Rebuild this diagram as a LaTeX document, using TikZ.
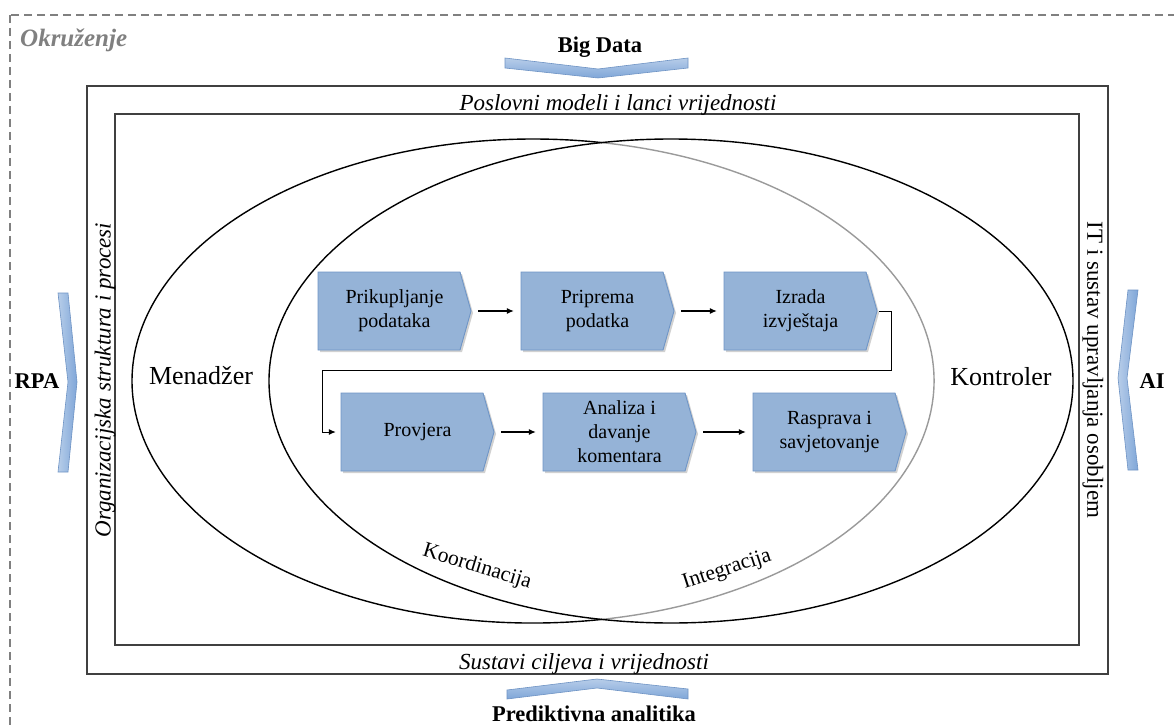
\documentclass[tikz,border=0pt]{standalone}
\usepackage{fontspec}
\setmainfont{Liberation Serif}
\usetikzlibrary{arrows.meta}
\definecolor{chevfill}{HTML}{95B3D7}
\definecolor{chevline}{HTML}{6F95C6}
\definecolor{bandlight}{HTML}{B7CDE9}
\definecolor{banddark}{HTML}{7FA6D8}
\definecolor{bandline}{HTML}{6E93C4}
\definecolor{rectline}{HTML}{404040}
\definecolor{ellgray}{HTML}{9A9A9A}
\definecolor{envgray}{HTML}{808080}
\tikzset{
 frame/.style={draw=rectline, line width=1.3pt},
 ellline/.style={draw=black, line width=1.4pt},
 ellsoft/.style={draw=ellgray, line width=1.4pt},
 chevshape/.style={fill=chevfill, draw=chevline, line width=0.9pt, line join=miter},
 chevshadow/.style={fill=black, opacity=0.18},
 chevtext/.style={minimum width=153pt, minimum height=78pt, inner sep=0pt, align=center, font=\fontsize{20}{24}\selectfont},
 flow/.style={line width=1.1pt, -{Latex[length=7pt,width=6pt]}},
 bandh/.style={top color=bandlight, bottom color=banddark, draw=bandline, line width=0.6pt},
 bandv/.style={left color=bandlight, right color=banddark, draw=bandline, line width=0.6pt},
 biglabel/.style={font=\fontsize{22.5}{27}\selectfont\bfseries, inner sep=0pt},
 sidelabel/.style={font=\fontsize{23}{27}\selectfont\itshape, inner sep=0pt},
 sidelabelup/.style={font=\fontsize{23}{27}\selectfont, inner sep=0pt},
 rolelabel/.style={font=\fontsize{26}{30}\selectfont, inner sep=0pt},
 arclabel/.style={font=\fontsize{21.5}{25}\selectfont, inner sep=0pt},
}
\newcommand\procchev[4]{%
 \fill[chevshadow] (#2+2,#3+2) -- ++(142,0) -- ++(11,39) -- ++(-11,39) -- ++(-142,0) -- cycle;
 \path[chevshape] (#2,#3) -- ++(142,0) -- ++(11,39) -- ++(-11,39) -- ++(-142,0) -- cycle;
 \node[chevtext] (#1) at (#2+76.5,#3+39) {#4};}
\begin{document}
\begin{tikzpicture}[x=1pt,y=-1pt]
\useasboundingbox (0,0) rectangle (1174,727);
\clip (0,0) rectangle (1174,727);
\fill[white] (0,0) rectangle (1174,727);
\draw[envgray, line width=1.2pt, dash pattern=on 8pt off 5pt] (10,15) rectangle (1200,760);
\node[font=\fontsize{25}{29}\selectfont\bfseries\itshape, text=envgray, anchor=west, inner sep=0pt] (env) at (20,40) {Okruženje};
% frames
\draw[frame] (87,86) rectangle (1108,674);
\draw[frame] (115,114) rectangle (1079,645);
% labels
\node[biglabel] (bigdata) at (600,47) {Big Data};
\node[sidelabel] (poslovni) at (618,105) {Poslovni modeli i lanci vrijednosti};
\node[sidelabel] (sustavi) at (584,664) {Sustavi ciljeva i vrijednosti};
\node[biglabel] (predikt) at (594,714) {Prediktivna analitika};
\node[biglabel] (rpa) at (37,381) {RPA};
\node[biglabel] (ai) at (1152,381) {AI};
\node[sidelabel, rotate=90] (org) at (105,380) {Organizacijska struktura i procesi};
\node[sidelabelup, rotate=-90] (it) at (1093,370) {IT i sustav upravljanja osobljem};
% bands
\path[bandh] (505,58) -- (598,69) -- (688,58) -- (688,68) -- (598,78) -- (505,68) -- cycle;
\path[bandh] (507,690) -- (597,679) -- (688,689) -- (688,699) -- (597,688) -- (507,699) -- cycle;
\path[bandv] (58,293) -- (68,293) -- (77,382) -- (68,472) -- (58,472) -- (68,382) -- cycle;
\path[bandv] (1128,290) -- (1138,290) -- (1127,378) -- (1138,470) -- (1128,470) -- (1118,378) -- cycle;
% ellipses
\draw[ellline] ([shift={(80.1:401 and 242)}]533,381) arc[start angle=80.1, end angle=279.9, x radius=401, y radius=242];
\draw[ellsoft] ([shift={(-80.1:401 and 242)}]533,381) arc[start angle=-80.1, end angle=80.1, x radius=401, y radius=242];
\draw[ellline] (671,381) ellipse [x radius=402, y radius=242];
\node[rolelabel] (men) at (201,376) {Menadžer};
\node[rolelabel] (kon) at (1001,377) {Kontroler};
\node[arclabel, rotate=-17] (koord) at (477,567) {Koordinacija};
\node[arclabel, rotate=18] (integ) at (727,570) {Integracija};
% process
\procchev{b1}{318}{272}{Prikupljanje\\podataka}
\procchev{b2}{521}{272}{Priprema\\podatka}
\procchev{b3}{724}{272}{Izrada\\izvještaja}
\procchev{b4}{341}{393}{Provjera}
\procchev{b5}{543}{393}{Analiza i\\davanje\\komentara}
\procchev{b6}{753}{393}{Rasprava i\\savjetovanje}
\draw[flow, shorten <=7pt, shorten >=7pt] (b1.east) -- (b2.west);
\draw[flow, shorten <=7pt, shorten >=7pt] (b2.east) -- (b3.west);
\draw[flow, shorten <=7pt, shorten >=7pt] (b4.east) -- (b5.west);
\draw[flow, shorten <=7pt, shorten >=7pt] (b5.east) -- (b6.west);
\coordinate (tr) at (891,370);
\coordinate (tl) at (322,370);
\draw[flow, line width=1pt, shorten <=2pt, shorten >=5pt] (b3.east) -| (tr) -- (tl) |- (b4.west);
\end{tikzpicture}
\end{document}
